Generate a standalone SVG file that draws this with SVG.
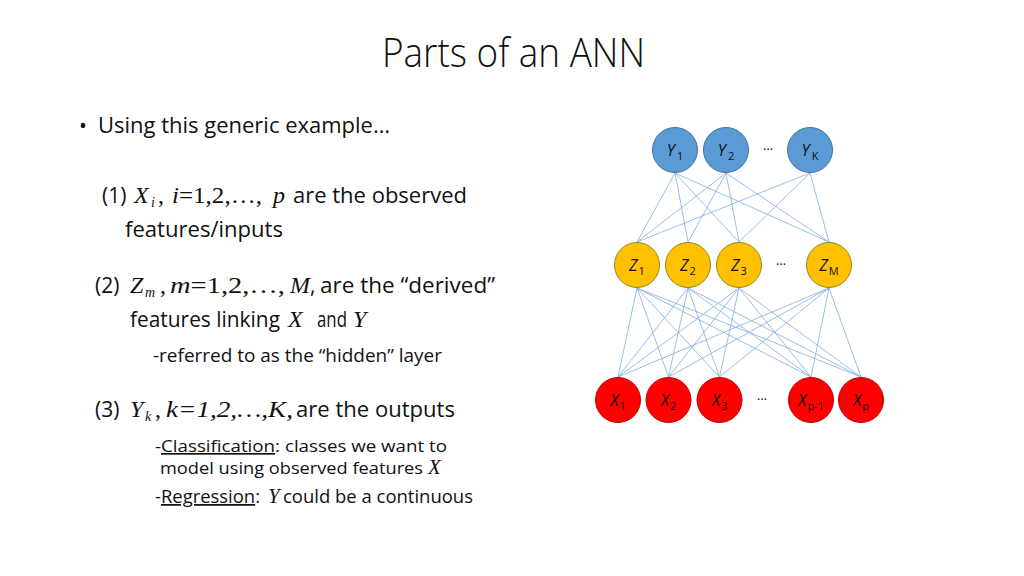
<svg xmlns="http://www.w3.org/2000/svg" width="1024" height="576" viewBox="0 0 1024 576">
<style>
.t{font-family:"Open Sans","Liberation Sans",sans-serif;fill:#111}
.m{font-family:"Liberation Serif","Times New Roman",serif;fill:#111}
.i{font-style:italic}
.lbl{font-family:"Open Sans","Liberation Sans",sans-serif;font-style:italic;font-size:16px;fill:#111;text-anchor:middle}
.sub{font-size:11px;font-style:normal}
.dots{font-family:"Open Sans","Liberation Sans",sans-serif;font-size:13px;fill:#111;text-anchor:middle}
.y{fill:#5B9BD5;stroke:#41719C;stroke-width:1}
.z{fill:#FFC000;stroke:#8A8A1E;stroke-width:1}
.x{fill:#FF0000;stroke:#C00000;stroke-width:1}
.c line{stroke:#7FAEDD;stroke-width:0.8}
</style>
<rect width="1024" height="576" fill="#fff"/>
<text class="t" x="382" y="67" font-size="40" font-weight="300" textLength="263" lengthAdjust="spacingAndGlyphs">Parts of an ANN</text>

<text class="t" x="79" y="133" font-size="21">•</text>
<text class="t" x="98" y="133" font-size="21" textLength="292" lengthAdjust="spacingAndGlyphs">Using this generic example…</text>

<g id="line1">
<text class="t" x="102" y="203" font-size="21">(1)</text>
<text class="m i" x="134" y="203" font-size="24">X</text>
<text class="m i" x="151" y="207" font-size="14">i</text>
<text class="m" x="158" y="203" font-size="24">,</text>
<text class="m" x="172" y="203" font-size="24" textLength="90" lengthAdjust="spacingAndGlyphs"><tspan class="i">i</tspan>=1,2,…,</text>
<text class="m i" x="273" y="203" font-size="24">p</text>
<text class="t" x="293" y="203" font-size="21" textLength="174" lengthAdjust="spacingAndGlyphs">are the observed</text>
<text class="t" x="125" y="237" font-size="21" textLength="158" lengthAdjust="spacingAndGlyphs">features/inputs</text>
</g>

<g id="line2">
<text class="t" x="95" y="293" font-size="21">(2)</text>
<text class="m i" x="130" y="293" font-size="24">Z</text>
<text class="m i" x="145" y="297" font-size="14">m</text>
<text class="m" x="160" y="293" font-size="24">,</text>
<text class="m" x="170" y="293" font-size="24" textLength="115" lengthAdjust="spacingAndGlyphs"><tspan class="i">m</tspan>=1,2,…,</text>
<text class="m i" x="290" y="293" font-size="24">M</text>
<text class="t" x="310" y="293" font-size="21">,</text>
<text class="t" x="320" y="293" font-size="21" textLength="175" lengthAdjust="spacingAndGlyphs">are the “derived”</text>
<text class="t" x="130" y="327" font-size="21" textLength="150" lengthAdjust="spacingAndGlyphs">features linking</text>
<text class="m i" x="288" y="327" font-size="24">X</text>
<text class="t" x="317" y="327" font-size="21" textLength="30" lengthAdjust="spacingAndGlyphs">and</text>
<text class="m i" x="353" y="327" font-size="24">Y</text>
<text class="t" x="153" y="362" font-size="17.5" textLength="289" lengthAdjust="spacingAndGlyphs">-referred to as the “hidden” layer</text>
</g>

<g id="line3">
<text class="t" x="95" y="417" font-size="21">(3)</text>
<text class="m i" x="130" y="417" font-size="24">Y</text>
<text class="m i" x="145" y="421" font-size="14">k</text>
<text class="m" x="155" y="417" font-size="24">,</text>
<text class="m i" x="166" y="417" font-size="24" textLength="127" lengthAdjust="spacingAndGlyphs">k=1,2,…,K,</text>
<text class="t" x="296" y="417" font-size="21" textLength="159" lengthAdjust="spacingAndGlyphs">are the outputs</text>
<text class="t" x="155" y="452" font-size="16.5" textLength="292" lengthAdjust="spacingAndGlyphs">-<tspan text-decoration="underline">Classification</tspan>: classes we want to</text>
<text class="t" x="160" y="474" font-size="16.5" textLength="263" lengthAdjust="spacingAndGlyphs">model using observed features</text>
<text class="m i" x="428" y="474" font-size="21">X</text>
<text class="t" x="155" y="503" font-size="17.5" textLength="105" lengthAdjust="spacingAndGlyphs">-<tspan text-decoration="underline">Regression</tspan>:</text>
<text class="m i" x="268" y="503" font-size="21">Y</text>
<text class="t" x="283" y="503" font-size="17.5" textLength="190" lengthAdjust="spacingAndGlyphs">could be a continuous</text>
</g>

<g id="connectors" class="c">
<line x1="675" y1="173" x2="637" y2="242"/>
<line x1="675" y1="173" x2="688" y2="242"/>
<line x1="675" y1="173" x2="739" y2="242"/>
<line x1="675" y1="173" x2="829" y2="242"/>
<line x1="726" y1="173" x2="637" y2="242"/>
<line x1="726" y1="173" x2="688" y2="242"/>
<line x1="726" y1="173" x2="739" y2="242"/>
<line x1="726" y1="173" x2="829" y2="242"/>
<line x1="810" y1="173" x2="637" y2="242"/>
<line x1="810" y1="173" x2="739" y2="242"/>
<line x1="810" y1="173" x2="829" y2="242"/>

<line x1="637" y1="288" x2="618" y2="377"/>
<line x1="637" y1="288" x2="668.5" y2="377"/>
<line x1="637" y1="288" x2="719.5" y2="377"/>
<line x1="637" y1="288" x2="811" y2="377"/>
<line x1="637" y1="288" x2="861" y2="377"/>
<line x1="688" y1="288" x2="618" y2="377"/>
<line x1="688" y1="288" x2="668.5" y2="377"/>
<line x1="688" y1="288" x2="719.5" y2="377"/>
<line x1="688" y1="288" x2="811" y2="377"/>
<line x1="688" y1="288" x2="861" y2="377"/>
<line x1="739" y1="288" x2="618" y2="377"/>
<line x1="739" y1="288" x2="668.5" y2="377"/>
<line x1="739" y1="288" x2="719.5" y2="377"/>
<line x1="739" y1="288" x2="811" y2="377"/>
<line x1="739" y1="288" x2="861" y2="377"/>
<line x1="829" y1="288" x2="618" y2="377"/>
<line x1="829" y1="288" x2="668.5" y2="377"/>
<line x1="829" y1="288" x2="719.5" y2="377"/>
<line x1="829" y1="288" x2="811" y2="377"/>
<line x1="829" y1="288" x2="861" y2="377"/>
</g>

<g id="Y1"><circle class="y" cx="675" cy="150" r="22.5"/><text class="lbl" x="675" y="156">Y<tspan class="sub" dx="2" dy="4">1</tspan></text></g>
<g id="Y2"><circle class="y" cx="726" cy="150" r="22.5"/><text class="lbl" x="726" y="156">Y<tspan class="sub" dx="2" dy="4">2</tspan></text></g>
<text class="dots" x="768" y="150">…</text>
<g id="YK"><circle class="y" cx="810" cy="150" r="22.5"/><text class="lbl" x="810" y="156">Y<tspan class="sub" dx="2" dy="4">K</tspan></text></g>

<g id="Z1"><circle class="z" cx="637" cy="265" r="22.5"/><text class="lbl" x="637" y="271">Z<tspan class="sub" dx="1" dy="4">1</tspan></text></g>
<g id="Z2"><circle class="z" cx="688" cy="265" r="22.5"/><text class="lbl" x="688" y="271">Z<tspan class="sub" dx="1" dy="4">2</tspan></text></g>
<g id="Z3"><circle class="z" cx="739" cy="265" r="22.5"/><text class="lbl" x="739" y="271">Z<tspan class="sub" dx="1" dy="4">3</tspan></text></g>
<text class="dots" x="781" y="265">…</text>
<g id="ZM"><circle class="z" cx="829" cy="265" r="22.5"/><text class="lbl" x="829" y="271">Z<tspan class="sub" dx="1" dy="4">M</tspan></text></g>

<g id="X1"><circle class="x" cx="618" cy="400" r="22.5"/><text class="lbl" x="618" y="406">X<tspan class="sub" dx="1" dy="4">1</tspan></text></g>
<g id="X2"><circle class="x" cx="668.5" cy="400" r="22.5"/><text class="lbl" x="668.5" y="406">X<tspan class="sub" dx="1" dy="4">2</tspan></text></g>
<g id="X3"><circle class="x" cx="719.5" cy="400" r="22.5"/><text class="lbl" x="719.5" y="406">X<tspan class="sub" dx="1" dy="4">3</tspan></text></g>
<text class="dots" x="762" y="400">…</text>
<g id="Xp-1"><circle class="x" cx="811" cy="400" r="22.5"/><text class="lbl" x="811" y="406">X<tspan class="sub" dx="1" dy="4">p-1</tspan></text></g>
<g id="Xp"><circle class="x" cx="861" cy="400" r="22.5"/><text class="lbl" x="861" y="406">X<tspan class="sub" dx="1" dy="4">p</tspan></text></g>
</svg>
